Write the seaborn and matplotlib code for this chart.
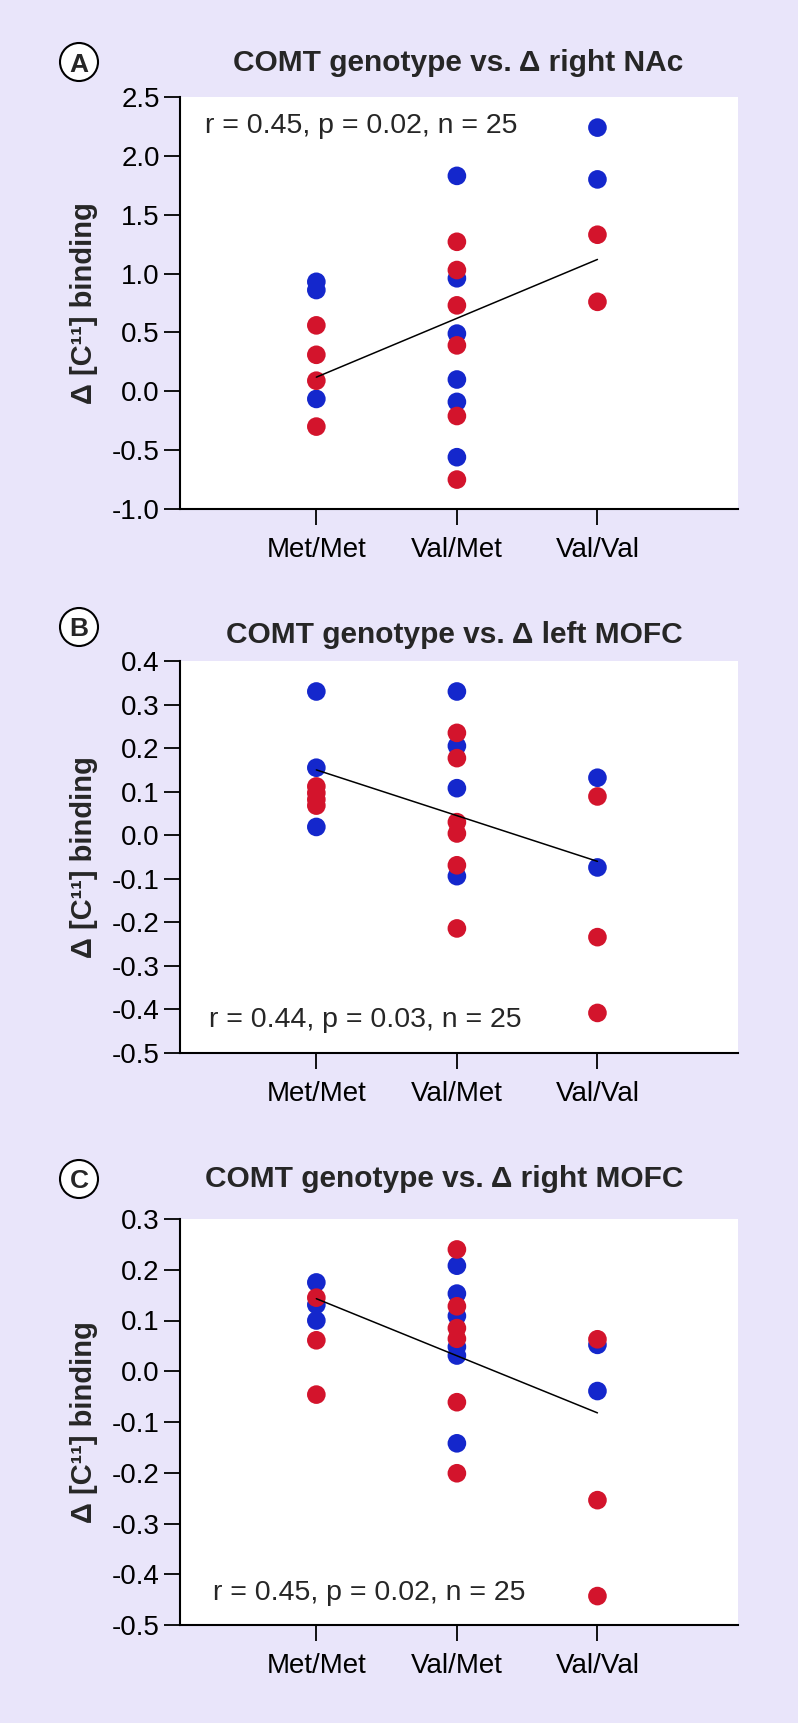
import numpy as np
import pandas as pd
import seaborn as sns
import matplotlib.pyplot as plt
from matplotlib.patches import Ellipse

sns.set_theme(style="white")
plt.rcParams["font.family"] = ["Liberation Sans", "DejaVu Sans"]
plt.rcParams["axes.unicode_minus"] = False

BG = "#E9E5FA"
BLUE = "#1427CC"
RED = "#D3142C"

GENOTYPES = ["Met/Met", "Val/Met", "Val/Val"]
PANEL_LETTERS = ["A", "B", "C"]
TITLES = [
    "COMT genotype vs. \u0394 right NAc",
    "COMT genotype vs. \u0394 left MOFC",
    "COMT genotype vs. \u0394 right MOFC",
]
STATS = [
    "r = 0.45, p = 0.02, n = 25",
    "r = 0.44, p = 0.03, n = 25",
    "r = 0.45, p = 0.02, n = 25",
]
YLABEL = "\u0394 [C\u00b9\u00b9] binding"

# panel A: right NAc  (values per genotype: Met/Met, Val/Met, Val/Val)
nac_blue = [[0.93, 0.86, -0.065], [1.83, 0.96, 0.49, 0.10, -0.09, -0.56], [2.24, 1.80]]
nac_red = [[0.56, 0.31, 0.09, -0.30], [1.27, 1.03, 0.73, 0.39, -0.21, -0.75], [1.33, 0.76]]
nac_fit = [0.12, 1.12]

# panel B: left MOFC
lmofc_blue = [[0.33, 0.155, 0.019], [0.33, 0.205, 0.108, -0.094], [0.132, -0.074]]
lmofc_red = [[0.112, 0.097, 0.082, 0.068], [0.235, 0.177, 0.030, 0.004, -0.069, -0.214], [0.089, -0.234, -0.408]]
lmofc_fit = [0.15, -0.06]

# panel C: right MOFC
rmofc_blue = [[0.175, 0.131, 0.100], [0.208, 0.153, 0.109, 0.048, 0.031, -0.142], [0.052, -0.039]]
rmofc_red = [[0.145, 0.061, -0.046], [0.240, 0.128, 0.085, 0.064, -0.061, -0.201], [0.063, -0.254, -0.443]]
rmofc_fit = [0.143, -0.082]

YLIMS = [(-1.0, 2.5), (-0.5, 0.4), (-0.5, 0.3)]
YSTEPS = [0.5, 0.1, 0.1]

panels = [
    (nac_blue, nac_red, nac_fit),
    (lmofc_blue, lmofc_red, lmofc_fit),
    (rmofc_blue, rmofc_red, rmofc_fit),
]

# layout in pixels of the 798x1723 canvas (top, bottom of each plot area)
W, H = 798, 1723
AX_LEFT, AX_RIGHT = 180, 738
AX_ROWS = [(97, 509), (661, 1053), (1219, 1625)]
TITLE_BASE = [71, 643, 1187]
CIRCLE_Y = [62, 627, 1179]
STAT_POS = [(0.045, 0.912), (0.052, 0.066), (0.059, 0.062)]


def to_frame(blue, red):
    rows = []
    for group, vals in (("blue", blue), ("red", red)):
        for i, g in enumerate(GENOTYPES):
            for v in vals[i]:
                rows.append({"genotype": g, "pos": i, "value": v, "group": group})
    return pd.DataFrame(rows)


fig = plt.figure(figsize=(W / 100, H / 100), dpi=100, facecolor=BG)

for k, (blue, red, fit) in enumerate(panels):
    top, bottom = AX_ROWS[k]
    ax = fig.add_axes([AX_LEFT / W, 1 - bottom / H, (AX_RIGHT - AX_LEFT) / W, (bottom - top) / H])
    ax.set_facecolor("white")
    df = to_frame(blue, red)
    sns.scatterplot(
        data=df, x="pos", y="value", hue="group",
        palette={"blue": BLUE, "red": RED}, s=180, linewidth=0,
        legend=False, ax=ax, zorder=2,
    )
    fit_df = pd.DataFrame({"pos": [0, 2], "value": fit})
    sns.lineplot(data=fit_df, x="pos", y="value", color="black", linewidth=1.1, ax=ax, zorder=3)

    lo, hi = YLIMS[k]
    ax.set_ylim(lo, hi)
    ax.set_xlim(-0.97, 3.0)
    yt = np.round(np.arange(lo, hi + 1e-9, YSTEPS[k]), 2)
    ax.set_yticks(yt, ["{:.1f}".format(v).replace("-0.0", "0.0") for v in yt])
    ax.set_xticks(range(3), GENOTYPES)
    ax.set_xlabel("")
    ax.set_ylabel("")
    for side in ["top", "right"]:
        ax.spines[side].set_visible(False)
    for side in ["left", "bottom"]:
        ax.spines[side].set_color("black")
        ax.spines[side].set_linewidth(1.5)
    ax.tick_params(axis="both", direction="out", length=11.5, width=1.3, color="black",
                   labelsize=20, labelcolor="black", left=True, bottom=True)
    ax.tick_params(axis="y", pad=3)
    ax.tick_params(axis="x", pad=9)

    sx, sy = STAT_POS[k]
    ax.text(sx, sy, STATS[k], transform=ax.transAxes, fontsize=20.5, ha="left", va="baseline")

    # title, right aligned
    fig.text(683 / W, 1 - TITLE_BASE[k] / H, TITLES[k], fontsize=21.5, fontweight="bold",
             ha="right", va="baseline")
    # circled panel letter
    cy = 1 - CIRCLE_Y[k] / H
    fig.add_artist(Ellipse((79 / W, cy), 38 / W, 38 / H, transform=fig.transFigure,
                           facecolor="white", edgecolor="black", linewidth=1.5))
    fig.text(79 / W, 1 - (CIRCLE_Y[k] + 9.5) / H, PANEL_LETTERS[k], fontsize=19,
             fontweight="bold", ha="center", va="baseline")
    # y label
    fig.text(84 / W, 1 - (top + bottom) / 2 / H, YLABEL, rotation=90, fontsize=21,
             fontweight="bold", ha="center", va="center")

fig.savefig("out.png", dpi=100, facecolor=BG)
